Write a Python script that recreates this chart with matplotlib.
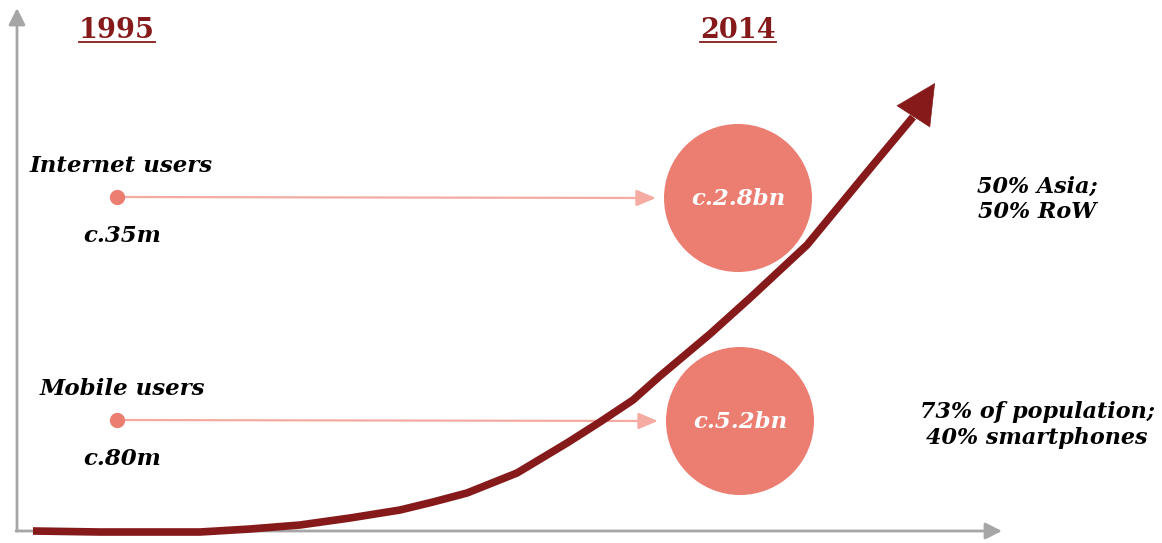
import matplotlib.pyplot as plt
from matplotlib.patches import Circle

# Content
years = ["1995", "2014"]
categories = ["Internet users", "Mobile users"]
users_1995 = ["c.35m", "c.80m"]
users_2014 = ["c.2.8bn", "c.5.2bn"]
notes = ["50% Asia;\n50% RoW", "73% of population;\n40% smartphones"]

# Growth curve traced in canvas pixels (y grows downward)
curve_x = [33, 100, 150, 200, 250, 300, 350, 400, 433, 467, 517, 567, 600, 633,
           660, 710, 750, 807, 840, 873, 913]
curve_y = [531, 532, 532, 532, 529, 525, 518, 510, 502, 493, 473, 443, 422, 400,
           376, 334, 298, 245, 205, 165, 117]
curve_tip = (935, 83)

# Layout (pixels)
W, H = 1162, 543
year_x = [117, 738]
row_y = [197, 420]
label_x = [30, 40]
dot_x = 117
circle_x = [738, 740]
circle_r = 74
note_x = 1037
note_y = [199, 425]

DARK_RED = "#861a1b"
SALMON = "#ec7d71"
PINK = "#f5aaa2"
GREY = "#a6a6a6"
FONT = "DejaVu Serif"

fig = plt.figure(figsize=(W / 100, H / 100), dpi=100)
ax = fig.add_axes([0, 0, 1, 1])
ax.set_xlim(0, W)
ax.set_ylim(H, 0)
ax.axis("off")

# axes arrows
axis_style = dict(arrowstyle="-|>,head_length=10,head_width=5", color=GREY, lw=2,
                  shrinkA=0, shrinkB=0, mutation_scale=1)
ax.annotate("", xy=(17, 8), xytext=(17, 531), arrowprops=axis_style)
ax.annotate("", xy=(1002, 531), xytext=(16, 531), arrowprops=axis_style)

# year headers, underlined
fig.canvas.draw()
renderer = fig.canvas.get_renderer()
for x, yr in zip(year_x, years):
    t = ax.text(x, 30, yr, ha="center", va="center", fontsize=19.5, fontweight="bold",
                color=DARK_RED, family=FONT)
    bb = t.get_window_extent(renderer).transformed(ax.transData.inverted())
    ax.plot([bb.x0, bb.x1], [42, 42], color=DARK_RED, lw=1.3)

# rows: label, 1995 dot, connector, 2014 bubble, note
for i, cat in enumerate(categories):
    y = row_y[i]
    ax.text(label_x[i], y - 31, cat, ha="left", va="center", fontsize=16.5,
            fontweight="bold", style="italic", family=FONT, color="black")
    ax.text(dot_x + 5, y + 39, users_1995[i], ha="center", va="center", fontsize=16.5,
            fontweight="bold", style="italic", family=FONT, color="black")
    ax.annotate("", xy=(circle_x[i] - circle_r - 8, y + 1), xytext=(dot_x, y),
                arrowprops=dict(arrowstyle="-|>,head_length=12,head_width=5",
                                color=PINK, lw=1.6, shrinkA=0, shrinkB=0,
                                mutation_scale=1), zorder=2)
    ax.plot(dot_x, y, "o", ms=11, color=SALMON, mec="none", zorder=3)
    ax.add_patch(Circle((circle_x[i], y + 1), circle_r, color=SALMON, lw=0, zorder=2))
    ax.text(circle_x[i], y + 2, users_2014[i], ha="center", va="center", fontsize=16.5,
            fontweight="bold", style="italic", family=FONT, color="white", zorder=4)
    ax.text(note_x, note_y[i], notes[i], ha="center", va="center", fontsize=16,
            fontweight="bold", style="italic", family=FONT, color="black",
            linespacing=1.2)

# growth curve with arrowhead
ax.plot(curve_x, curve_y, color=DARK_RED, lw=5.5, solid_capstyle="butt",
        solid_joinstyle="round", zorder=5)
ax.annotate("", xy=curve_tip, xytext=(curve_x[-1], curve_y[-1]),
            arrowprops=dict(arrowstyle="-|>,head_length=28,head_width=14",
                            color=DARK_RED, lw=0.5, shrinkA=0, shrinkB=0,
                            mutation_scale=1), zorder=5)

fig.savefig("out.png", dpi=100)
